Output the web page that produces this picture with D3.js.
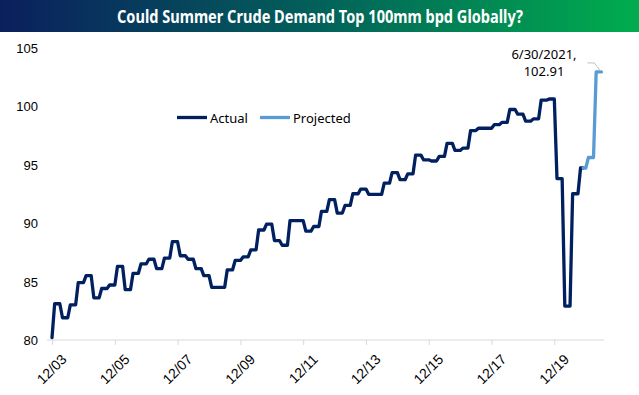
<!DOCTYPE html>
<html>
<head>
<meta charset="utf-8">
<script src="https://cdn.jsdelivr.net/npm/d3@7"></script>
<style>
  body { margin: 0; background: #fff; }
  svg { display: block; font-family: "Noto Sans", "Open Sans", sans-serif; }
  .tick text { font-size: 13px; fill: #000; }
</style>
</head>
<body>
<svg id="chart" width="639" height="395"></svg>
<script>
// quarterly global crude demand (mm bpd), Q1 2004 .. Q4 2020, each quarter held for 3 months
const firstYear = 2004;
const dec03Value = 80.2;
const actualQuarters = [
  83.1, 81.9, 83.0, 84.9,   // 2004
  85.5, 83.6, 84.4, 84.7,   // 2005
  86.3, 84.3, 85.7, 86.5,   // 2006
  86.9, 86.1, 87.0, 88.4,   // 2007
  87.2, 86.9, 86.1, 85.5,   // 2008
  84.5, 84.5, 86.0, 86.8,   // 2009
  87.1, 87.7, 89.4, 89.9,   // 2010
  88.5, 88.1, 90.2, 90.2,   // 2011
  89.3, 89.7, 91.0, 92.0,   // 2012
  90.85, 91.5, 92.5, 92.9,  // 2013
  92.45, 92.45, 93.4, 94.3, // 2014
  93.7, 94.2, 95.8, 95.4,   // 2015
  95.3, 95.7, 96.8, 96.2,   // 2016
  96.4, 97.9, 98.1, 98.1,   // 2017
  98.4, 98.6, 99.7, 99.3,   // 2018
  98.7, 98.9, 100.5, 100.6, // 2019
  93.8, 82.9, 92.5, 94.7    // 2020
];
const projectedQuarters = [95.6, 102.91]; // Q1, Q2 2021
const actualLastMonth = 10; // actual series runs through Nov 2020
const tickYears = [2003, 2005, 2007, 2009, 2011, 2013, 2015, 2017, 2019];
const tickLabels = ["12/03", "12/05", "12/07", "12/09", "12/11", "12/13", "12/15", "12/17", "12/19"];
const yTicks = [80, 85, 90, 95, 100, 105];
const legendNames = ["Actual", "Projected"];
const calloutText = ["6/30/2021,", "102.91"];

const svg = d3.select("#chart");

// monthly points
const allQuarters = actualQuarters.concat(projectedQuarters);
const monthly = [];
allQuarters.forEach((v, k) => {
  for (let i = 0; i < 3; i++) monthly.push({ date: new Date(firstYear, 3 * k + i, 1), value: v });
});
const cutIndex = (actualQuarters.length - 1) * 3 + (actualLastMonth - 9);
const actual = [{ date: new Date(2003, 11, 1), value: dec03Value }].concat(monthly.slice(0, cutIndex + 1));
const projected = monthly.slice(cutIndex);

const x = d3.scaleTime()
  .domain([new Date(2003, 11, 1), new Date(2021, 6, 1)])
  .range([52, 604]);
const y = d3.scaleLinear()
  .domain([80, 105])
  .range([340, 47.5]);

// title banner
const grad = svg.append("defs").append("linearGradient")
  .attr("id", "banner").attr("x1", "0%").attr("x2", "100%");
grad.append("stop").attr("offset", "0%").attr("stop-color", "#0b1f5e");
grad.append("stop").attr("offset", "50%").attr("stop-color", "#02615a");
grad.append("stop").attr("offset", "100%").attr("stop-color", "#00ad4e");
svg.append("rect")
  .attr("x", 0).attr("y", 0).attr("width", 639).attr("height", 32)
  .attr("fill", "url(#banner)");
svg.append("text")
  .attr("x", 320).attr("y", 22.5)
  .attr("text-anchor", "middle")
  .attr("fill", "#fff")
  .attr("font-weight", "bold")
  .attr("font-size", 17)
  .attr("textLength", 406)
  .attr("lengthAdjust", "spacingAndGlyphs")
  .text("Could Summer Crude Demand Top 100mm bpd Globally?");

// y axis labels
svg.append("g")
  .attr("transform", "translate(38,0)")
  .call(d3.axisLeft(y).tickValues(yTicks).tickSize(0).tickPadding(0))
  .call(g => g.select(".domain").remove())
  .selectAll("text").attr("dy", "0.35em");

// x axis
const xAxis = svg.append("g")
  .attr("transform", "translate(0,340)")
  .call(d3.axisBottom(x)
    .tickValues(tickYears.map(yr => new Date(yr, 11, 1)))
    .tickFormat((d, i) => tickLabels[i])
    .tickSize(5));
xAxis.select(".domain").remove();
xAxis.selectAll(".tick line").attr("stroke", "#d9d9d9");
xAxis.append("line")
  .attr("x1", 47).attr("x2", 604)
  .attr("stroke", "#d9d9d9");
xAxis.selectAll(".tick text")
  .attr("text-anchor", "end")
  .attr("dy", "0.35em")
  .style("font-size", "14px")
  .attr("transform", "translate(6,11) rotate(-45)");

// lines
const line = d3.line()
  .x(d => x(d.date))
  .y(d => y(d.value));

svg.append("path")
  .datum(actual)
  .attr("fill", "none")
  .attr("stroke", "#002060")
  .attr("stroke-width", 3.3)
  .attr("stroke-linejoin", "round")
  .attr("stroke-linecap", "round")
  .attr("d", line);

svg.append("path")
  .datum(projected)
  .attr("fill", "none")
  .attr("stroke", "#5b9bd5")
  .attr("stroke-width", 3.3)
  .attr("stroke-linejoin", "round")
  .attr("stroke-linecap", "round")
  .attr("d", line);

// callout
const last = projected[projected.length - 1];
const lx = x(last.date), ly = y(last.value);
svg.append("polyline")
  .attr("points", [[lx - 1, ly - 1], [lx - 7, ly - 9], [lx - 14, ly - 9]].map(p => p.join(",")).join(" "))
  .attr("fill", "none")
  .attr("stroke", "#bfbfbf")
  .attr("stroke-width", 1);
svg.selectAll(".callout")
  .data(calloutText)
  .enter().append("text")
  .attr("class", "callout")
  .attr("x", 544)
  .attr("y", (d, i) => 59 + i * 17)
  .attr("text-anchor", "middle")
  .attr("font-size", 13)
  .text(d => d);

// legend
const legend = svg.append("g");
const legendColors = ["#002060", "#5b9bd5"];
const legendX = [177, 260];
legendNames.forEach((name, i) => {
  legend.append("line")
    .attr("x1", legendX[i]).attr("x2", legendX[i] + 30)
    .attr("y1", 117.5).attr("y2", 117.5)
    .attr("stroke", legendColors[i])
    .attr("stroke-width", 3.3);
  legend.append("text")
    .attr("x", legendX[i] + 33)
    .attr("y", 122.5)
    .attr("font-size", 13)
    .text(name);
});
</script>
</body>
</html>
